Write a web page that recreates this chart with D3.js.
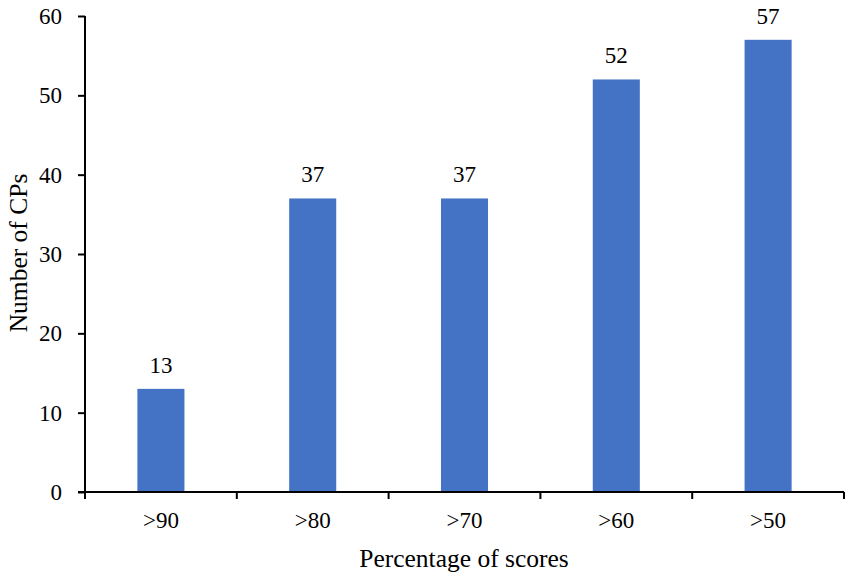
<!DOCTYPE html>
<html><head><meta charset="utf-8">
<script src="https://cdn.jsdelivr.net/npm/d3@7"></script>
<style>body{margin:0;background:#fff}svg{display:block}</style>
</head><body>
<svg id="c" width="851" height="578"></svg>
<script>
const categories = [">90", ">80", ">70", ">60", ">50"];
const values = [13, 37, 37, 52, 57];
const yTicks = [0, 10, 20, 30, 40, 50, 60];

const svg = d3.select("#c");
const m = {l: 85, r: 7, t: 16, b: 86};
const W = 851, H = 578;
const x = d3.scaleBand().domain(categories).range([m.l, W - m.r]).paddingInner(0.69).paddingOuter(0.345);
const xb = d3.scaleBand().domain(categories).range([m.l, W - m.r]);
const y = d3.scaleLinear().domain([0, 60]).range([H - m.b, m.t]);
const font = "'Liberation Serif','Times New Roman',serif";

svg.selectAll("rect.bar").data(values).enter().append("rect")
  .attr("x", (d, i) => x(categories[i]))
  .attr("width", x.bandwidth())
  .attr("y", d => y(d))
  .attr("height", d => y(0) - y(d))
  .attr("fill", "#4472C4");

svg.selectAll("text.val").data(values).enter().append("text")
  .attr("x", (d, i) => x(categories[i]) + x.bandwidth() / 2)
  .attr("y", d => y(d) - 16)
  .attr("text-anchor", "middle")
  .attr("font-family", font).attr("font-size", 23).attr("fill", "#000")
  .text(d => d);

// y axis
const ya = svg.append("g").attr("transform", `translate(${m.l},0)`)
  .call(d3.axisLeft(y).tickValues(yTicks).tickSize(7).tickPadding(16));
ya.select(".domain").attr("stroke", "#000").attr("stroke-width", 2).attr("d", `M0,${y(60)}V${y(0)}`);
ya.selectAll(".tick line").attr("stroke", "#000").attr("stroke-width", 2);
ya.selectAll(".tick text").attr("font-family", font).attr("font-size", 23).attr("fill", "#000");

// x axis
const xa = svg.append("g").attr("transform", `translate(0,${y(0)})`)
  .call(d3.axisBottom(xb).tickSize(0).tickPadding(20));
xa.select(".domain").attr("stroke", "#000").attr("stroke-width", 2).attr("d", `M${m.l - 7},0H${W - m.r}`);
xa.selectAll(".tick text").attr("font-family", font).attr("font-size", 23).attr("fill", "#000");
const bounds = categories.map(c => xb(c)).concat([W - m.r]);
xa.selectAll("line.bt").data(bounds).enter().append("line")
  .attr("x1", d => d).attr("x2", d => d).attr("y1", 0).attr("y2", 7)
  .attr("stroke", "#000").attr("stroke-width", 2);

svg.append("text").attr("x", 464).attr("y", 567)
  .attr("text-anchor", "middle").attr("font-family", font).attr("font-size", 25.5).attr("fill", "#000")
  .text("Percentage of scores");
svg.append("text").attr("transform", `translate(27,253) rotate(-90)`)
  .attr("text-anchor", "middle").attr("font-family", font).attr("font-size", 25.5).attr("fill", "#000")
  .text("Number of CPs");
</script>
</body></html>
